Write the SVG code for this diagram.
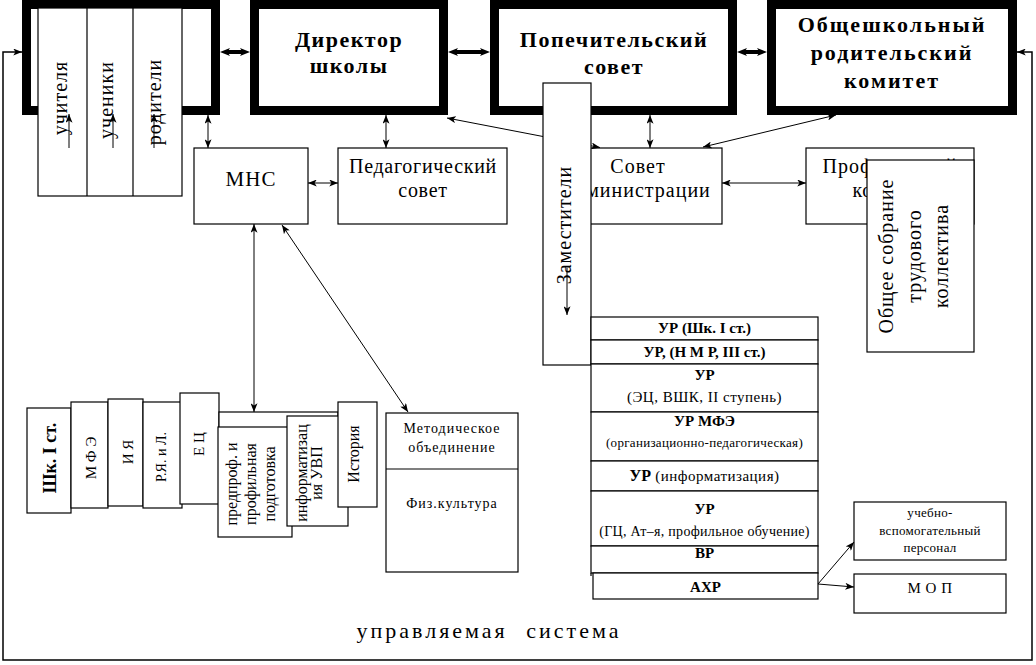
<svg xmlns="http://www.w3.org/2000/svg" width="1036" height="665" viewBox="0 0 1036 665" font-family="'Liberation Serif', 'DejaVu Serif', serif">
<defs>
<style>
text{font-family:'Liberation Serif','DejaVu Serif',serif;fill:#000;text-anchor:middle}
.b{fill:#fff;stroke:#000;stroke-width:1.2}
.k{fill:#fff;stroke:#000;stroke-width:9}
.ln{stroke:#000;stroke-width:1.2;fill:none}
.c{stroke:#000;stroke-width:1;fill:none;marker-start:url(#ah);marker-end:url(#ah)}
.c1{stroke:#000;stroke-width:1;fill:none;marker-end:url(#ah)}
.tc{stroke:#000;stroke-width:4;fill:none;marker-start:url(#ahT);marker-end:url(#ahT)}
.lp{stroke:#000;stroke-width:1.5;fill:none;marker-start:url(#ah);marker-end:url(#ah)}
.tb{font-weight:bold;font-size:22px;letter-spacing:1.5px}
.t20{font-size:20px;letter-spacing:1px}
.rb{font-weight:bold;font-size:15px}
.rr{font-size:15px;letter-spacing:0.5px}
.rs{font-size:13px;letter-spacing:0.3px}
.sm{font-size:14px;letter-spacing:1px}
</style>
<marker id="ah" viewBox="0 0 10 8" refX="10" refY="4" markerWidth="9" markerHeight="7" markerUnits="userSpaceOnUse" orient="auto-start-reverse"><path d="M0,0 L10,4 L0,8 L2.5,4 z" fill="#000"/></marker>
<marker id="ahT" viewBox="0 0 10 8" refX="5" refY="4" markerWidth="10" markerHeight="8" markerUnits="userSpaceOnUse" orient="auto-start-reverse"><path d="M0,0 L10,4 L0,8 L2.5,4 z" fill="#000"/></marker>
</defs>
<rect width="1036" height="665" fill="#fff"/>

<g id="participants">
<rect class="k" x="26.5" y="4.5" width="189" height="106"/>
<rect class="b" x="38" y="8" width="144" height="188"/>
<path class="ln" d="M87,8 V196 M133,8 V196"/>
<text class="t20" transform="translate(67,98) rotate(-90)">учителя</text>
<text class="t20" transform="translate(113,100) rotate(-90)">ученики</text>
<text class="t20" transform="translate(161,102) rotate(-90)">родители</text>
</g>

<g id="director">
<rect class="k" x="254.5" y="4.5" width="189" height="106"/>
<text class="tb" x="349" y="47">Директор</text>
<text class="tb" x="349" y="73">школы</text>
</g>

<g id="trustees">
<rect class="k" x="494.5" y="4.5" width="238" height="106"/>
<text class="tb" x="614" y="47">Попечительский</text>
<text class="tb" x="614" y="74">совет</text>
</g>

<g id="parents-committee">
<rect class="k" x="771.5" y="4.5" width="241" height="106"/>
<text class="tb" x="892" y="32" style="letter-spacing:2px">Общешкольный</text>
<text class="tb" x="892" y="60" style="letter-spacing:2px">родительский</text>
<text class="tb" x="892" y="88" style="letter-spacing:2px">комитет</text>
</g>

<g id="mns">
<rect class="b" x="194" y="148" width="114" height="76"/>
<text class="t20" x="251" y="186" style="font-size:21px">МНС</text>
</g>

<g id="ped-council">
<rect class="b" x="338" y="148" width="169" height="76"/>
<text class="t20" x="423" y="173" style="letter-spacing:0.7px">Педагогический</text>
<text class="t20" x="423" y="197" style="letter-spacing:0.7px">совет</text>
</g>

<g id="admin-council">
<rect class="b" x="553" y="148" width="169" height="76"/>
<text class="t20" x="638" y="173">Совет</text>
<text class="t20" x="638" y="197">администрации</text>
</g>

<g id="deputies">
<rect class="b" x="543" y="83" width="48" height="282"/>
<text class="t20" transform="translate(571,225) rotate(-90)">Заместители</text>
</g>

<g id="trade-union">
<rect class="b" x="806" y="148" width="168" height="76"/>
<text class="t20" x="890" y="173">Профсоюзный</text>
<text class="t20" x="890" y="197">комитет</text>
</g>

<g id="general-meeting">
<rect class="b" x="867" y="160" width="107" height="192"/>
<text class="t20" transform="translate(920,256) rotate(-90)"><tspan x="0" y="-27">Общее собрание</tspan><tspan x="0" y="1">трудового</tspan><tspan x="0" y="28">коллектива</tspan></text>
</g>

<g id="sch1">
<rect class="b" x="27" y="408" width="44" height="105"/>
<text transform="translate(56,458) rotate(-90)" style="font-size:18px;font-weight:bold">Шк. I ст.</text>
</g>
<g id="mfe">
<rect class="b" x="71" y="402" width="37" height="106"/>
<text transform="translate(96,458) rotate(-90)" style="font-size:15px">М Ф Э</text>
</g>
<g id="iya">
<rect class="b" x="108" y="399" width="35" height="107"/>
<text transform="translate(133,452) rotate(-90)" style="font-size:15px">И Я</text>
</g>
<g id="rya">
<rect class="b" x="143" y="402" width="39" height="106"/>
<text transform="translate(166,457) rotate(-90)" style="font-size:14px">Р.Я. и Л.</text>
</g>
<g id="ec">
<rect class="b" x="180" y="393" width="39" height="111"/>
<text transform="translate(204,444) rotate(-90)" style="font-size:15px">Е Ц</text>
</g>
<g id="pre-profile-back">
<rect class="b" x="219" y="412" width="119" height="100"/>
</g>
<g id="pre-profile">
<rect class="b" x="218" y="427" width="74" height="110"/>
<text transform="translate(255,484) rotate(-90)" style="font-size:16px"><tspan x="0" y="-18">предпроф. и</tspan><tspan x="0" y="1">профильная</tspan><tspan x="0" y="20">подготовка</tspan></text>
</g>
<g id="informatization">
<rect class="b" x="287" y="416" width="61" height="110"/>
<text transform="translate(317,473) rotate(-90)" style="font-size:16px"><tspan x="0" y="-10">информатизац</tspan><tspan x="0" y="5">ия УВП</tspan></text>
</g>
<g id="history">
<rect class="b" x="338" y="402" width="39" height="105"/>
<text transform="translate(359,454) rotate(-90)" style="font-size:16px">История</text>
</g>

<g id="method-assoc">
<rect class="b" x="386" y="413" width="132" height="159"/>
<path class="ln" d="M386,469 H518"/>
<text class="sm" x="452" y="433">Методическое</text>
<text class="sm" x="452" y="452">объединение</text>
<text class="sm" x="452" y="508">Физ.культура</text>
</g>

<g id="ur1">
<rect class="b" x="591" y="317" width="227" height="23"/>
<text class="rb" x="704.5" y="333">УР (Шк. I ст.)</text>
</g>
<g id="ur2">
<rect class="b" x="591" y="340" width="227" height="24"/>
<text class="rb" x="704.5" y="357">УР, (Н М Р, III ст.)</text>
</g>
<g id="ur3">
<rect class="b" x="591" y="364" width="227" height="48"/>
<text class="rb" x="704.5" y="380">УР</text>
<text class="rr" x="704.5" y="402">(ЭЦ, ВШК, II ступень)</text>
</g>
<g id="ur4">
<rect class="b" x="591" y="412" width="227" height="49"/>
<text class="rb" x="704.5" y="426">УР МФЭ</text>
<text class="rs" x="704.5" y="447">(организационно-педагогическая)</text>
</g>
<g id="ur5">
<rect class="b" x="591" y="461" width="227" height="30"/>
<text x="704.5" y="481"><tspan class="rb" style="font-size:16px">УР</tspan><tspan class="rr"> (информатизация)</tspan></text>
</g>
<g id="ur6">
<rect class="b" x="591" y="491" width="227" height="55"/>
<text class="rb" x="704.5" y="514">УР</text>
<text class="rs" x="704.5" y="536" style="font-size:14px">(ГЦ, Ат–я, профильное обучение)</text>
</g>
<g id="vr">
<rect class="b" x="591" y="546" width="227" height="27"/>
<path class="ln" d="M591,573 V576"/>
<text class="rb" x="704.5" y="558">ВР</text>
</g>
<g id="ahr">
<rect class="b" x="593" y="573" width="225" height="26"/>
<text class="rb" x="705.5" y="592">АХР</text>
</g>

<g id="support-staff">
<rect class="b" x="854" y="502" width="152" height="58"/>
<text class="rs" x="930" y="517">учебно-</text>
<text class="rs" x="930" y="535">вспомогательный</text>
<text class="rs" x="930" y="552">персонал</text>
</g>
<g id="mop">
<rect class="b" x="854" y="574" width="152" height="39"/>
<text x="930" y="593" style="font-size:15px;letter-spacing:0.5px">М О П</text>
</g>

<g id="label">
<text x="489" y="638" style="font-size:22px;letter-spacing:3px;word-spacing:10px">управляемая система</text>
</g>

<g id="connectors">
<line class="tc" x1="225" y1="52" x2="245" y2="52"/>
<line class="tc" x1="453" y1="52" x2="485" y2="52"/>
<line class="tc" x1="742" y1="52" x2="762" y2="52"/>
<path class="lp" d="M1017,52 H1032 V660 H3 V52 H22"/>
<path class="c" d="M208,115 V148"/>
<path class="c" d="M386,115 V148"/>
<path class="c" d="M650,115 V148"/>
<path class="c" d="M308,183 H338"/>
<path class="c" d="M722,183 H806"/>
<path class="c" d="M447,118 L543,136.5 M591,145.8 L600,147.5"/>
<path class="c" d="M836,115 L703,147"/>
<path class="c" d="M254,224 V412"/>
<path class="c" d="M282,225 L408,412"/>
<path class="c1" d="M818,584 L854,542"/>
<path class="c1" d="M818,584 L854,587"/>
<path class="c1" d="M69,148 V114"/>
<path class="c1" d="M113,148 V114"/>
<path class="c1" d="M154,148 V114"/>
<path class="c1" d="M567,268 V315"/>
</g>
</svg>
